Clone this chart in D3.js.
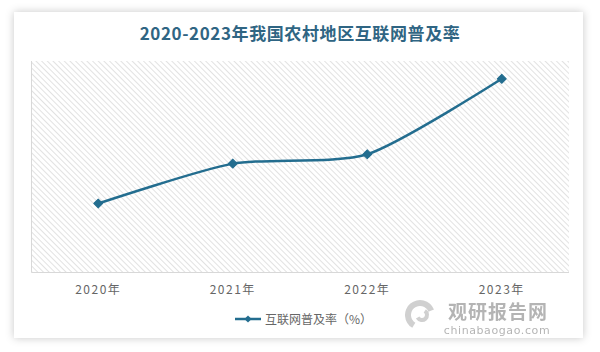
<!DOCTYPE html>
<html>
<head>
<meta charset="utf-8">
<script src="https://cdn.jsdelivr.net/npm/d3@7"></script>
<style>
  body { margin: 0; background: #fff; }
  #graf { width: 600px; height: 352px; }
</style>
</head>
<body>
<div id="graf"></div>
<script>
// datos
anios   = ['2020年', '2021年', '2022年', '2023年']
valores = [53.2, 57.9, 59.0, 67.9]
serie   = '互联网普及率（%）'
titulo  = '2020-2023年我国农村地区互联网普及率'

ancho_total = 600
alto_total  = 352
margins = {top: 61, left: 31, right: 31, bottom: 79}
ancho = ancho_total - margins.left - margins.right
alto  = alto_total - margins.top - margins.bottom

color = '#236d8f'

svg = d3.select('#graf').append('svg')
        .attr('width', ancho_total)
        .attr('height', alto_total)

defs = svg.append('defs')

// sombra de la tarjeta
f = defs.append('filter').attr('id', 'sombra')
        .attr('x', '-10%').attr('y', '-10%').attr('width', '120%').attr('height', '120%')
f.append('feDropShadow').attr('dx', 0).attr('dy', 0).attr('stdDeviation', 4)
 .attr('flood-color', '#000').attr('flood-opacity', 0.22)

// fondo rayado
pat = defs.append('pattern').attr('id', 'rayas')
          .attr('patternUnits', 'userSpaceOnUse')
          .attr('width', 4).attr('height', 4)
          .attr('patternTransform', 'rotate(45)')
pat.append('rect').attr('width', 4).attr('height', 4).attr('fill', '#fff')
pat.append('line').attr('x1', 0).attr('y1', 0).attr('x2', 4).attr('y2', 0)
   .attr('stroke', '#e2e2e2').attr('stroke-width', 2)

svg.append('rect')
   .attr('x', 14).attr('y', 12).attr('width', 569).attr('height', 326)
   .attr('fill', '#fff')
   .attr('filter', 'url(#sombra)')

svg.append('text')
   .attr('x', 300).attr('y', 40)
   .attr('text-anchor', 'middle')
   .style('font-family', '"Noto Sans CJK SC", sans-serif')
   .style('font-weight', 'bold')
   .style('font-size', '17px')
   .style('letter-spacing', '0.6px')
   .attr('fill', '#2f6583')
   .text(titulo)

g = svg.append('g')
       .attr('transform', `translate(${margins.left}, ${margins.top})`)

// escaladores
x = d3.scaleBand().domain(anios).range([0, ancho])
y = d3.scaleLinear().domain([45, 70]).range([alto, 0])

g.append('rect')
 .attr('width', ancho).attr('height', alto)
 .attr('fill', 'url(#rayas)')

g.append('path')
 .attr('d', `M0.5,0V${alto - 0.5}H${ancho}`)
 .attr('fill', 'none').attr('stroke', '#d8d8d8').attr('stroke-width', 1)

// eje x
xAxisGroup = g.append('g')
              .attr('transform', `translate(0, ${alto})`)
              .call(d3.axisBottom(x).tickSize(0).tickPadding(12))
xAxisGroup.select('.domain').remove()
xAxisGroup.selectAll('text')
          .style('font-family', '"Noto Sans CJK SC", sans-serif')
          .style('font-size', '12px')
          .style('letter-spacing', '1.5px')
          .attr('fill', '#666')

datos = anios.map((a, i) => ({anio: a, valor: valores[i]}))

linea = d3.line()
          .x(d => x(d.anio) + x.bandwidth() / 2)
          .y(d => y(d.valor))
          .curve(d3.curveCardinal.tension(0.3))

g.append('path')
 .datum(datos)
 .attr('d', linea)
 .attr('fill', 'none')
 .attr('stroke', color)
 .attr('stroke-width', 2.5)

rombo = d3.symbol().type(d3.symbolSquare).size(40)
g.selectAll('.punto')
 .data(datos)
 .enter().append('path')
 .attr('class', 'punto')
 .attr('d', rombo)
 .attr('transform', d => `translate(${x(d.anio) + x.bandwidth() / 2}, ${y(d.valor)}) rotate(45)`)
 .attr('fill', color)
 .attr('stroke', color)
 .attr('stroke-linejoin', 'round')
 .attr('stroke-width', 1)

// leyenda
ley = svg.append('g').attr('transform', 'translate(235, 319)')
ley.append('line').attr('x1', 0).attr('x2', 26).attr('y1', 0).attr('y2', 0)
   .attr('stroke', color).attr('stroke-width', 2.5)
ley.append('path').attr('d', d3.symbol().type(d3.symbolSquare).size(26))
   .attr('transform', 'translate(13, 0) rotate(45)').attr('fill', color)
ley.append('text').attr('x', 30).attr('y', 4.5)
   .style('font-family', '"Noto Sans CJK SC", sans-serif')
   .style('font-size', '12px')
   .attr('fill', '#666')
   .text(serie)

// marca de agua
wm = svg.append('g').attr('opacity', 0.55)
wm.append('path')
  .attr('d', d3.arc().innerRadius(9).outerRadius(15).startAngle(-2.6).endAngle(1.2)())
  .attr('transform', 'translate(420, 315)').attr('fill', '#aaa')
wm.append('path')
  .attr('d', d3.arc().innerRadius(3).outerRadius(7).startAngle(0.6).endAngle(4.2)())
  .attr('transform', 'translate(422, 315)').attr('fill', '#aaa')
wm.append('text').attr('x', 498).attr('y', 319)
  .attr('text-anchor', 'middle')
  .style('font-family', '"Noto Sans CJK SC", sans-serif')
  .style('font-weight', 'bold')
  .style('font-size', '19px')
  .style('letter-spacing', '1px')
  .attr('fill', '#777')
  .text('观研报告网')
wm.append('text').attr('x', 497).attr('y', 334)
  .attr('text-anchor', 'middle')
  .style('font-family', '"DejaVu Sans", sans-serif')
  .style('font-size', '11px')
  .style('letter-spacing', '0.6px')
  .attr('fill', '#777')
  .text('chinabaogao.com')
</script>
</body>
</html>
